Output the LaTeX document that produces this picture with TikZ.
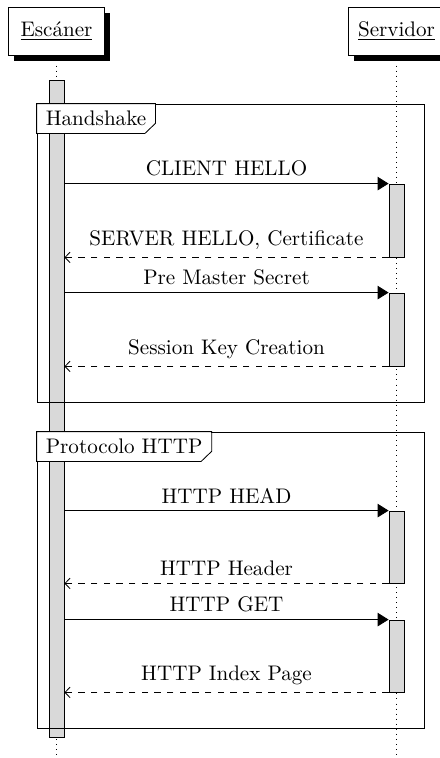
\documentclass[tikz,border=0pt]{standalone}
\usepackage{fontspec}
\usetikzlibrary{arrows.meta,shadows,fit}
\tikzset{
  inst/.style={rectangle, draw, fill=white, minimum width=1.6cm, minimum height=0.8cm,
    drop shadow={opacity=1, fill=black, shadow xshift=2.4pt, shadow yshift=-2.8pt}},
  lifeline/.style={dotted},
  activity/.style={rectangle, draw, fill=gray!30, inner sep=0pt},
  blockframe/.style={rectangle, draw, inner sep=0pt},
  tabtext/.style={anchor=north west, fill=white, inner xsep=4.2pt, inner ysep=0pt, minimum height=13.75pt},
  callmsg/.style={-{Triangle[length=5.2pt,width=6.4pt]}},
  retmsg/.style={dashed, -{Straight Barb[length=2.4pt,width=5pt]}},
  msglabel/.style={midway, above}
}
\begin{document}
\begin{tikzpicture}[x=0.474pt, y=-0.474pt]
\useasboundingbox (0,0) rectangle (439,758);

% participants
\node[inst] (esc) at (56.5,31) {\underline{Escáner}};
\node[inst] (srv) at (396.5,31) {\underline{Servidor}};

% lifelines
\coordinate (escend) at (56.5,758);
\coordinate (srvend) at (396.5,758);
\draw[lifeline] (esc) -- (escend);
\draw[lifeline] (srv) -- (srvend);

% activation bars
\node[activity, fit={(49,80)(64,737)}] (ebar) {};
\node[activity, fit={(389,184)(404,257)}] (s1) {};
\node[activity, fit={(389,293)(404,366)}] (s2) {};
\node[activity, fit={(389,511)(404,583)}] (s3) {};
\node[activity, fit={(389,620)(404,692)}] (s4) {};

% block: Handshake
\node[blockframe, fit={(37,104)(424,402)}] (hs) {};
\node[tabtext] (hstab) at (hs.north west) {Handshake};
\draw (hstab.north west) -- (hstab.north east) -- ([yshift=4.8pt]hstab.south east)
  -- ([xshift=-5pt]hstab.south east) -- (hstab.south west) -- cycle;

% block: Protocolo HTTP
\node[blockframe, fit={(37,432)(424,728)}] (hp) {};
\node[tabtext] (hptab) at (hp.north west) {Protocolo HTTP};
\draw (hptab.north west) -- (hptab.north east) -- ([yshift=4.8pt]hptab.south east)
  -- ([xshift=-5pt]hptab.south east) -- (hptab.south west) -- cycle;

% messages
\draw[callmsg] (ebar.east |- s1.north) -- node[msglabel] {CLIENT HELLO} (s1.north west);
\draw[retmsg] (s1.south west) -- node[msglabel] {SERVER HELLO, Certificate} (ebar.east |- s1.south);
\draw[callmsg] (ebar.east |- s2.north) -- node[msglabel] {Pre Master Secret} (s2.north west);
\draw[retmsg] (s2.south west) -- node[msglabel] {Session Key Creation} (ebar.east |- s2.south);
\draw[callmsg] (ebar.east |- s3.north) -- node[msglabel] {HTTP HEAD} (s3.north west);
\draw[retmsg] (s3.south west) -- node[msglabel] {HTTP Header} (ebar.east |- s3.south);
\draw[callmsg] (ebar.east |- s4.north) -- node[msglabel] {HTTP GET} (s4.north west);
\draw[retmsg] (s4.south west) -- node[msglabel] {HTTP Index Page} (ebar.east |- s4.south);
\end{tikzpicture}
\end{document}
